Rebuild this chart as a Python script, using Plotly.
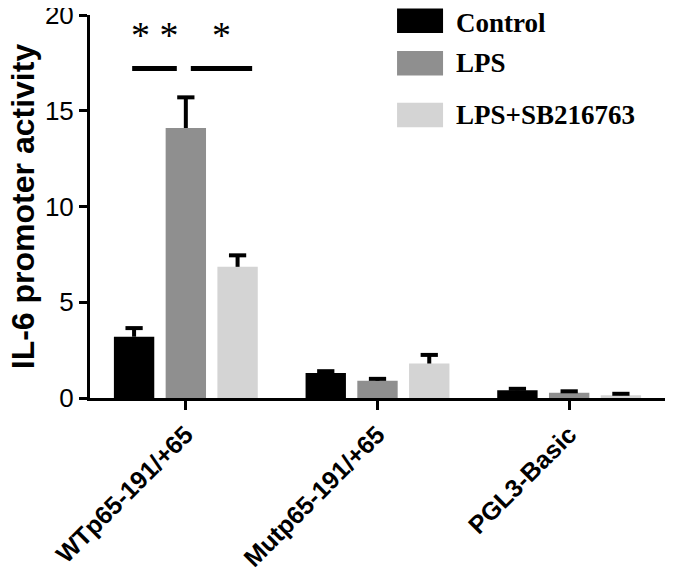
import plotly.graph_objects as go

categories = ["WTp65-191/+65", "Mutp65-191/+65", "PGL3-Basic"]
series_names = ["Control", "LPS", "LPS+SB216763"]
control_vals = [3.2, 1.3, 0.4]
control_err = [0.45, 0.1, 0.08]
lps_vals = [14.1, 0.9, 0.28]
lps_err = [1.6, 0.1, 0.07]
sb_vals = [6.85, 1.8, 0.15]
sb_err = [0.6, 0.45, 0.07]
y_ticks = [0, 5, 10, 15, 20]
y_title = "IL-6 promoter activity"
sig_labels = ["**", "*"]
sig_level = 17.2

colors = ["#000000", "#8f8f8f", "#d4d4d4"]
vals = [control_vals, lps_vals, sb_vals]
errs = [control_err, lps_err, sb_err]

bargap = 0.19
slot = (1 - bargap) / 3
cap_half = 0.045

fig = go.Figure()
for name, v, c in zip(series_names, vals, colors):
    fig.add_trace(go.Bar(
        x=categories, y=v, name=name, marker=dict(color=c, line=dict(width=0)),
        showlegend=False,
    ))

# one-sided error bars (upper only), drawn on a numeric overlay axis
for k, (v, e) in enumerate(zip(vals, errs)):
    xs, ys = [], []
    for i, (vi, ei) in enumerate(zip(v, e)):
        xc = i + (k - 1) * slot
        xs += [xc, xc, None, xc - cap_half, xc + cap_half, None]
        ys += [vi, vi + ei, None, vi + ei, vi + ei, None]
    fig.add_trace(go.Scatter(x=xs, y=ys, mode="lines", xaxis="x2", yaxis="y",
                             line=dict(color="black", width=4), showlegend=False,
                             hoverinfo="skip"))

# significance lines between bars of first group
sig_spans = [(-slot - 0.01, -0.047), (0.026, slot + 0.076)]
for (x0, x1), lab in zip(sig_spans, sig_labels):
    fig.add_shape(type="line", xref="x2", yref="y", x0=x0, x1=x1, y0=sig_level, y1=sig_level,
                  line=dict(color="black", width=5))
    fig.add_annotation(x=(x0 + x1) / 2, y=sig_level + 1.75, xref="x2", yref="y",
                       text=lab.replace("**", "* *"), showarrow=False,
                       font=dict(family="Liberation Serif", size=38, color="black"))

# legend drawn manually
leg_rows = [0.98, 0.874, 0.739]
for name, c, yc in zip(series_names, colors, leg_rows):
    fig.add_shape(type="rect", xref="paper", yref="paper", x0=0.534, x1=0.614,
                  y0=0.985 - (0.985 - yc) - 0.032 + (0.005 if yc == leg_rows[0] else 0),
                  y1=yc + 0.032 + (0.005 if yc == leg_rows[0] else 0),
                  fillcolor=c, line=dict(width=0))
    fig.add_annotation(x=0.635, y=yc, xref="paper", yref="paper", text="<b>" + name + "</b>",
                       showarrow=False, xanchor="left", yanchor="middle", borderpad=0,
                       font=dict(family="Liberation Serif", size=27, color="black"))

# y-axis title
fig.add_annotation(x=-0.117, y=0.5, xref="paper", yref="paper", text="<b>" + y_title + "</b>",
                   textangle=-90, showarrow=False, xanchor="center", yanchor="middle",
                   borderpad=0, font=dict(family="Liberation Sans", size=32, color="black"))

fig.update_layout(
    width=685, height=580,
    margin=dict(l=82, r=28, t=7, b=190, autoexpand=False),
    plot_bgcolor="white", paper_bgcolor="white",
    barmode="group", bargap=bargap, bargroupgap=0.22,
    xaxis=dict(showline=True, linecolor="black", linewidth=3, ticks="outside", ticklen=9,
               tickwidth=3, tickcolor="black", tickangle=-45,
               tickfont=dict(family="Liberation Sans", size=25, color="black"),
               range=[-0.5, 2.5], showgrid=False, zeroline=False,
               tickprefix="<b>", ticksuffix="</b>"),
    xaxis2=dict(overlaying="x", range=[-0.5, 2.5], visible=False),
    yaxis=dict(showline=True, linecolor="black", linewidth=3, ticks="outside", ticklen=8,
               tickwidth=3, tickcolor="black", range=[0, 20], tickvals=y_ticks,
               tickfont=dict(family="Liberation Sans", size=26, color="black"),
               tickprefix="<b>", ticksuffix="</b>", ticklabeloverflow="allow",
               showgrid=False, zeroline=False),
)

fig.write_html("out.html")
